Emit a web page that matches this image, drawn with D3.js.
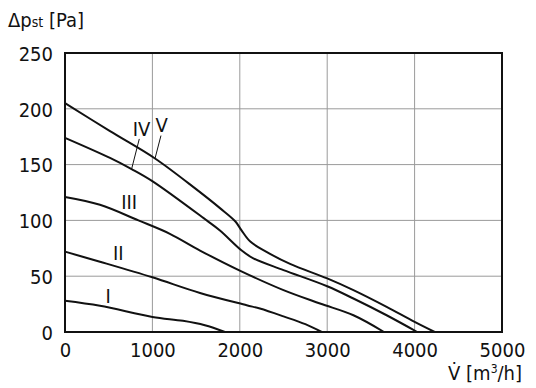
<!DOCTYPE html>
<html>
<head>
<meta charset="utf-8">
<script src="https://cdn.jsdelivr.net/npm/d3@7"></script>
<style>
  body { margin: 0; background: #fff; }
  text { font-family: "Liberation Sans Narrow", "DejaVu Sans Condensed", sans-serif; fill: #111; }
</style>
</head>
<body>
<svg id="chart" width="536" height="388"></svg>
<script>
// --- data (flow m3/h, static pressure Pa) ---
const xTicks = [0, 1000, 2000, 3000, 4000, 5000];
const yTicks = [0, 50, 100, 150, 200, 250];

const curveI = [[0, 28], [400, 23.5], [1000, 13.5], [1350, 10], [1600, 6], [1830, 0]];
const curveII = [[0, 72], [400, 63], [1000, 49], [1545, 35], [2079, 24], [2230, 21], [2500, 14], [2750, 7], [2937, 0]];
const curveIII = [[0, 121], [400, 114], [840, 100], [1200, 88], [1545, 73], [2000, 55], [2500, 37.5], [2918, 25.5], [3300, 15], [3650, 0]];
const curveIV = [[0, 174], [515, 156], [762, 146], [1003, 135], [1621, 100], [1773, 91], [2022, 73], [2155, 66], [2500, 55.5], [3000, 41], [3300, 30], [3680, 15], [4030, 0]];
const curveV = [[0, 205], [515, 180], [1030, 155.5], [1500, 128], [1773, 111], [1950, 99], [2020, 91], [2120, 81], [2300, 72], [2575, 61], [3000, 48], [3300, 37.5], [3680, 22.5], [4000, 9], [4230, 0]];

const curves = [curveI, curveII, curveIII, curveIV, curveV];

// label name, label anchor [flow, pressure], optional leader [from, to]
const labels = [
    { name: "I", at: [495, 32] },
    { name: "II", at: [610, 71] },
    { name: "III", at: [735, 117] },
    { name: "IV", at: [875, 182], leader: [[850, 173], [762, 146]] },
    { name: "V", at: [1105, 186], leader: [[1098, 176], [1030, 155.5]] },
];

// --- layout ---
const M = { left: 65, right: 502, top: 53, bottom: 332 };
const svg = d3.select("#chart");

const x = d3.scaleLinear().domain([0, 5000]).range([M.left, M.right]);
const y = d3.scaleLinear().domain([0, 250]).range([M.bottom, M.top]);

// grid
const grid = svg.append("g").attr("stroke", "#9a9a9a").attr("stroke-width", 1);
grid.selectAll(".gx").data(xTicks.slice(1, -1)).enter().append("line")
    .attr("x1", (d) => x(d)).attr("x2", (d) => x(d))
    .attr("y1", M.top).attr("y2", M.bottom);
grid.selectAll(".gy").data(yTicks.slice(1, -1)).enter().append("line")
    .attr("x1", M.left).attr("x2", M.right)
    .attr("y1", (d) => y(d)).attr("y2", (d) => y(d));

// axes (labels only)
const xAxis = svg.append("g")
    .attr("transform", `translate(0,${M.bottom})`)
    .call(d3.axisBottom(x).tickValues(xTicks).tickFormat(d3.format("d")).tickSize(0).tickPadding(0));
xAxis.select(".domain").remove();
xAxis.selectAll("text")
    .attr("y", 25).attr("dy", 0)
    .style("font-size", "20px").style("fill", "#111");

const yAxis = svg.append("g")
    .attr("transform", `translate(${M.left},0)`)
    .call(d3.axisLeft(y).tickValues(yTicks).tickSize(0).tickPadding(12));
yAxis.select(".domain").remove();
yAxis.selectAll("text")
    .attr("dy", "0.36em")
    .style("font-size", "20px").style("fill", "#111");

// curves
const line = d3.line()
    .x((d) => x(d[0]))
    .y((d) => y(d[1]))
    .curve(d3.curveCatmullRom.alpha(0.5));

svg.append("g")
    .selectAll("path")
    .data(curves)
    .enter()
    .append("path")
    .attr("d", line)
    .attr("fill", "none")
    .attr("stroke", "#111")
    .attr("stroke-width", 2);

// curve labels
svg.append("g")
    .selectAll("line")
    .data(labels.filter((d) => d.leader))
    .enter()
    .append("line")
    .attr("x1", (d) => x(d.leader[0][0])).attr("y1", (d) => y(d.leader[0][1]))
    .attr("x2", (d) => x(d.leader[1][0])).attr("y2", (d) => y(d.leader[1][1]))
    .attr("stroke", "#111").attr("stroke-width", 1);

svg.append("g")
    .selectAll("text")
    .data(labels)
    .enter()
    .append("text")
    .attr("x", (d) => x(d.at[0]))
    .attr("y", (d) => y(d.at[1]))
    .attr("text-anchor", "middle")
    .attr("dy", "0.36em")
    .style("font-size", "20px")
    .text((d) => d.name);

// frame
svg.append("rect")
    .attr("x", M.left).attr("y", M.top)
    .attr("width", M.right - M.left).attr("height", M.bottom - M.top)
    .attr("fill", "none").attr("stroke", "#111").attr("stroke-width", 2);

// axis titles
const yTitle = svg.append("text").attr("x", 8).attr("y", 27).style("font-size", "20px");
yTitle.append("tspan").text("Δp");
yTitle.append("tspan").style("font-size", "14px").text("st");
yTitle.append("tspan").text(" [Pa]");

const xTitle = svg.append("text").attr("x", 522).attr("y", 380)
    .attr("text-anchor", "end").style("font-size", "20px");
xTitle.append("tspan").text("V\u0307 [m");
xTitle.append("tspan").attr("dy", -7).style("font-size", "12px").text("3");
xTitle.append("tspan").attr("dy", 7).text("/h]");
</script>
</body>
</html>
